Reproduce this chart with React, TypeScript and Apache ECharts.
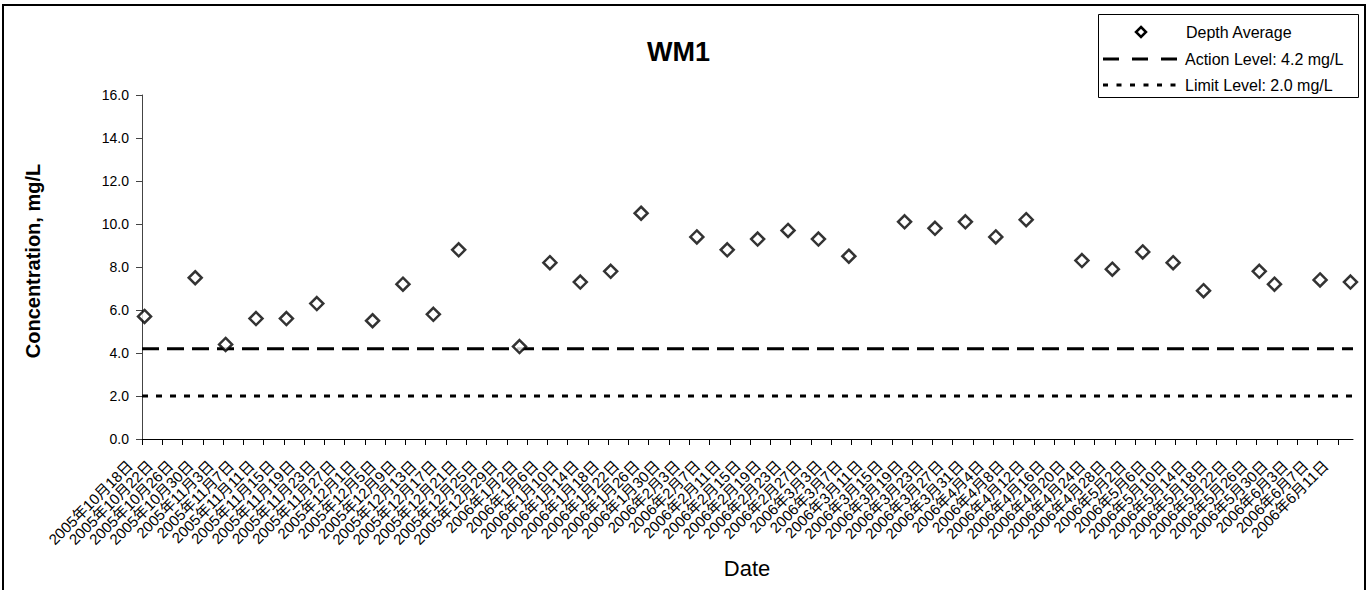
import React, { useEffect, useRef } from "react";
import * as echarts from "echarts";

// ---- data ----
const tickLabels: string[] = [
  "2005年10月18日", "2005年10月22日", "2005年10月26日", "2005年10月30日",
  "2005年11月3日", "2005年11月7日", "2005年11月11日", "2005年11月15日",
  "2005年11月19日", "2005年11月23日", "2005年11月27日", "2005年12月1日",
  "2005年12月5日", "2005年12月9日", "2005年12月13日", "2005年12月17日",
  "2005年12月21日", "2005年12月25日", "2005年12月29日", "2006年1月2日",
  "2006年1月6日", "2006年1月10日", "2006年1月14日", "2006年1月18日",
  "2006年1月22日", "2006年1月26日", "2006年1月30日", "2006年2月3日",
  "2006年2月7日", "2006年2月11日", "2006年2月15日", "2006年2月19日",
  "2006年2月23日", "2006年2月27日", "2006年3月3日", "2006年3月7日",
  "2006年3月11日", "2006年3月15日", "2006年3月19日", "2006年3月23日",
  "2006年3月27日", "2006年3月31日", "2006年4月4日", "2006年4月8日",
  "2006年4月12日", "2006年4月16日", "2006年4月20日", "2006年4月24日",
  "2006年4月28日", "2006年5月2日", "2006年5月6日", "2006年5月10日",
  "2006年5月14日", "2006年5月18日", "2006年5月22日", "2006年5月26日",
  "2006年5月30日", "2006年6月3日", "2006年6月7日", "2006年6月11日",
];

const sampleDates: string[] = [
  "2005-10-18", "2005-10-28", "2005-11-03", "2005-11-09", "2005-11-15",
  "2005-11-21", "2005-12-02", "2005-12-08", "2005-12-14", "2005-12-19",
  "2005-12-31", "2006-01-06", "2006-01-12", "2006-01-18", "2006-01-24",
  "2006-02-04", "2006-02-10", "2006-02-16", "2006-02-22", "2006-02-28",
  "2006-03-06", "2006-03-17", "2006-03-23", "2006-03-29", "2006-04-04",
  "2006-04-10", "2006-04-21", "2006-04-27", "2006-05-03", "2006-05-09",
  "2006-05-15", "2006-05-26", "2006-05-29", "2006-06-07", "2006-06-13",
];

const depthAverage: number[] = [
  5.7, 7.5, 4.4, 5.6, 5.6, 6.3, 5.5, 7.2, 5.8, 8.8,
  4.3, 8.2, 7.3, 7.8, 10.5, 9.4, 8.8, 9.3, 9.7, 9.3,
  8.5, 10.1, 9.8, 10.1, 9.4, 10.2, 8.3, 7.9, 8.7, 8.2,
  6.9, 7.8, 7.2, 7.4, 7.3,
];

const seriesNames: string[] = ["Depth Average", "Action Level: 4.2 mg/L", "Limit Level: 2.0 mg/L"];
const actionLevel = 4.2;
const limitLevel = 2.0;
const axisStart = "2005-10-18";
const axisEnd = "2006-06-14";
const tickStepDays = 4;
const yMin = 0;
const yMax = 16;
const yStep = 2;

// ---- helpers ----
function toUTC(s: string): number {
  const [y, m, d] = s.split("-").map(Number);
  return Date.UTC(y, m - 1, d);
}
function dayOffset(s: string): number {
  return Math.round((toUTC(s) - toUTC(axisStart)) / 86400000);
}

const FONT = "'Liberation Sans', Arial, Helvetica, sans-serif";
const FONT_CJK = "'Liberation Sans', Arial, 'Noto Sans CJK JP', sans-serif";

const ACTION_DASH = [17, 8];
const LIMIT_DASH = [6, 8];

export default function App() {
  const ref = useRef<HTMLDivElement>(null);

  useEffect(() => {
    if (!ref.current) return;
    const chart = echarts.init(ref.current, undefined, { renderer: "svg" });
    const axisMax = dayOffset(axisEnd);
    const tickValues = tickLabels.map((_, i) => i * tickStepDays);
    const lastTick = tickValues[tickValues.length - 1];
    // empty guard labels next to the first / last label keep ECharts'
    // min/max overlap check from hiding a real label
    const labelValues = [0, 0.001, ...tickValues.slice(1, -1), lastTick - 0.001, lastTick];
    const scatterData = sampleDates.map((d, i) => [dayOffset(d) + 0.5, depthAverage[i]]);

    // manual legend (box + icons + texts)
    const lgX = 1098, lgY = 14, lgW = 260, lgH = 83;
    const rowY = [32, 59, 85];
    const iconX0 = 1103, iconX1 = 1178, textX = 1186;
    const legendGraphics: any[] = [
      {
        type: "rect",
        shape: { x: lgX + 0.5, y: lgY + 0.5, width: lgW, height: lgH },
        style: { fill: "#fff", stroke: "#000", lineWidth: 1 },
        silent: true,
        z: 10,
      },
      {
        type: "polygon",
        shape: {
          points: [
            [1141, rowY[0] - 5],
            [1146, rowY[0]],
            [1141, rowY[0] + 5],
            [1136, rowY[0]],
          ],
        },
        style: { fill: "#fff", stroke: "#000", lineWidth: 2.5 },
        silent: true,
        z: 11,
      },
      {
        type: "line",
        shape: { x1: iconX0, y1: rowY[1], x2: iconX1, y2: rowY[1] },
        style: { stroke: "#000", lineWidth: 3, lineDash: [16, 13] },
        silent: true,
        z: 11,
      },
      {
        type: "line",
        shape: { x1: iconX0, y1: rowY[2], x2: iconX1 + 3, y2: rowY[2] },
        style: { stroke: "#000", lineWidth: 3, lineDash: [5, 8.5] },
        silent: true,
        z: 11,
      },
      ...seriesNames.map((name, i) => ({
        type: "text",
        x: textX - (i === 0 ? 0 : 1),
        y: rowY[i],
        style: {
          text: name,
          fontSize: 16,
          fontFamily: FONT,
          fill: "#000",
          textAlign: "left",
          textVerticalAlign: "middle",
        },
        silent: true,
        z: 11,
      })),
    ];

    chart.setOption({
      animation: false,
      backgroundColor: "#fff",
      textStyle: { fontFamily: FONT },
      title: {
        text: "WM1",
        left: 647,
        top: 38,
        padding: 0,
        textStyle: { fontSize: 27, fontWeight: "bold", color: "#000", fontFamily: FONT },
      },
      grid: { left: 142, right: 16, top: 95, bottom: 151, containLabel: false },
      xAxis: {
        type: "value",
        min: 0,
        max: axisMax,
        interval: tickStepDays,
        axisLine: { show: true, onZero: false, lineStyle: { color: "#000", width: 1 } },
        axisTick: {
          show: true,
          length: 6,
          customValues: tickValues,
          lineStyle: { color: "#000" },
        },
        axisLabel: {
          customValues: labelValues,
          showMinLabel: true,
          showMaxLabel: true,
          hideOverlap: false,
          rotate: 45,
          margin: 12,
          fontSize: 15,
          color: "#000",
          fontFamily: FONT_CJK,
          padding: [0, 17, 0, 0],
          formatter: (v: number) => {
            const k = v / tickStepDays;
            return Number.isInteger(k) ? tickLabels[k] ?? "" : "";
          },
        },
        splitLine: { show: false },
      },
      yAxis: {
        type: "value",
        min: yMin,
        max: yMax,
        interval: yStep,
        axisLine: { show: true, lineStyle: { color: "#444", width: 1 } },
        axisTick: { show: true, length: 6, lineStyle: { color: "#444" } },
        axisLabel: {
          fontSize: 14,
          margin: 13,
          color: "#000",
          formatter: (v: number) => v.toFixed(1),
        },
        splitLine: { show: false },
      },
      series: [
        {
          name: seriesNames[0],
          type: "scatter",
          data: scatterData,
          symbol: "diamond",
          symbolSize: 13,
          itemStyle: { color: "#fff", borderColor: "#000", borderWidth: 2.5 },
          z: 4,
        },
        {
          name: seriesNames[1],
          type: "line",
          data: [[0, actionLevel], [axisMax, actionLevel]],
          symbol: "none",
          lineStyle: { color: "#000", width: 3, type: ACTION_DASH },
          z: 2,
        },
        {
          name: seriesNames[2],
          type: "line",
          data: [[0, limitLevel], [axisMax, limitLevel]],
          symbol: "none",
          lineStyle: { color: "#000", width: 3, type: LIMIT_DASH },
          z: 2,
        },
      ],
      graphic: [
        {
          type: "rect",
          shape: { x: 3, y: 5, width: 1362, height: 600 },
          style: { fill: "none", stroke: "#000", lineWidth: 2 },
          silent: true,
          z: -1,
        },
        {
          type: "text",
          x: 33,
          y: 261,
          rotation: Math.PI / 2,
          style: {
            text: "Concentration, mg/L",
            fontSize: 20,
            fontWeight: "bold",
            fontFamily: FONT,
            fill: "#000",
            textAlign: "center",
            textVerticalAlign: "middle",
          },
        },
        {
          type: "text",
          x: 747,
          y: 568,
          style: {
            text: "Date",
            fontSize: 22,
            fontFamily: FONT,
            fill: "#000",
            textAlign: "center",
            textVerticalAlign: "middle",
          },
        },
        ...legendGraphics,
      ],
    });

    return () => chart.dispose();
  }, []);

  return (
    <div
      ref={ref}
      style={{ position: "absolute", left: 0, top: 0, width: 1369, height: 590 }}
    />
  );
}
